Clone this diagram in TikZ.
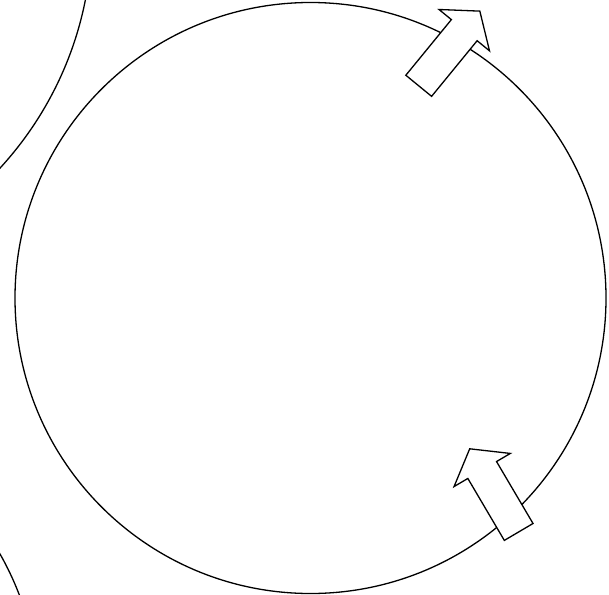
\documentclass[tikz,border=0pt]{standalone}
\usetikzlibrary{shapes.arrows}
\begin{document}
\begin{tikzpicture}[x=1pt,y=-1pt,line width=1.3pt,
  blockarrow/.style={draw,fill=white,single arrow,minimum height=96.5pt,inner sep=16pt,
    single arrow head extend=16pt,single arrow tip angle=106,single arrow head indent=0pt}]
  \useasboundingbox (0,0) rectangle (609,594);
  \clip (0,0) rectangle (609,594);
  % neighbouring cells, only partly in view
  \draw (-257,-68) circle [radius=349pt];
  \draw (-261,702) circle [radius=300pt];
  % main cell
  \draw (310.5,298) circle [radius=295.5pt];
  % outflow arrows
  \node[blockarrow,rotate=50.7,anchor=tail] (out) at (418.3,86.3) {};
  \node[blockarrow,rotate=120.5,anchor=tail] (in) at (519,532.5) {};
\end{tikzpicture}
\end{document}
